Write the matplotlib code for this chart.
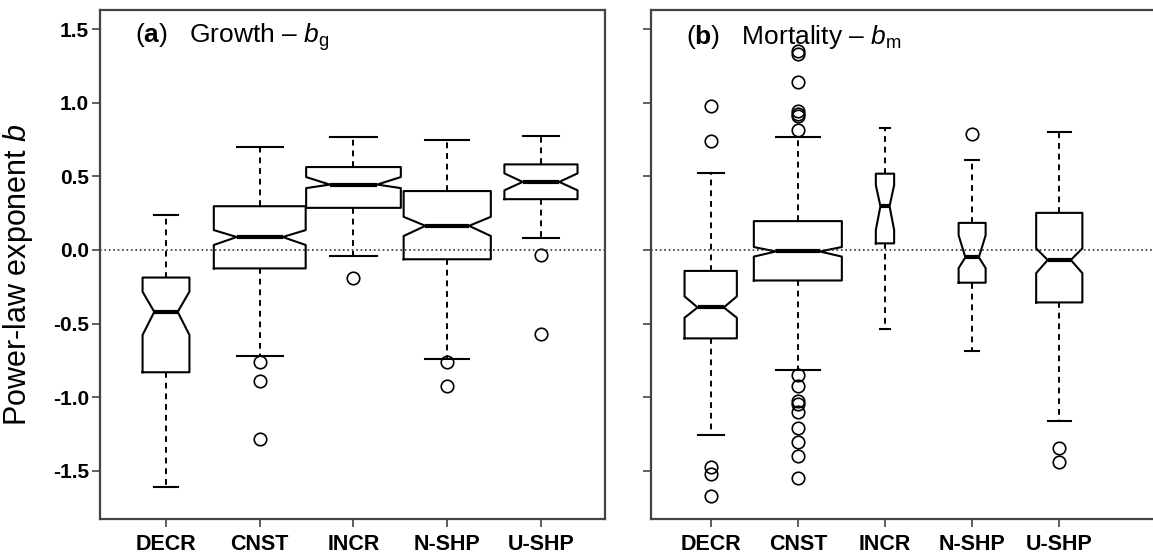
import matplotlib.pyplot as plt

plt.rcParams['font.family'] = 'Liberation Sans'
plt.rcParams['mathtext.fontset'] = 'custom'
plt.rcParams['mathtext.rm'] = 'Liberation Sans'
plt.rcParams['mathtext.it'] = 'Liberation Sans:italic'
plt.rcParams['mathtext.bf'] = 'Liberation Sans:bold'
plt.rcParams['axes.unicode_minus'] = False

groups = ['DECR', 'CNST', 'INCR', 'N-SHP', 'U-SHP']
yticks = [-1.5, -1.0, -0.5, 0.0, 0.5, 1.0, 1.5]
ytick_labels = ['-1.5', '-1.0', '-0.5', '0.0', '0.5', '1.0', '1.5']

# (a) growth exponent b_g
g_whislo = [-1.61, -0.72, -0.04, -0.743, 0.083]
g_q1 = [-0.83, -0.125, 0.286, -0.063, 0.345]
g_med = [-0.42, 0.088, 0.444, 0.164, 0.462]
g_q3 = [-0.187, 0.297, 0.563, 0.40, 0.581]
g_whishi = [0.236, 0.70, 0.766, 0.748, 0.777]
g_cilo = [-0.577, 0.034, 0.42, 0.095, 0.405]
g_cihi = [-0.283, 0.135, 0.495, 0.225, 0.52]
g_fliers = [[], [-0.76, -0.89, -1.284], [-0.187], [-0.76, -0.92], [-0.034, -0.57]]
g_widths = [0.50, 0.98, 1.01, 0.93, 0.78]

# (b) mortality exponent b_m
m_whislo = [-1.255, -0.815, -0.536, -0.687, -1.164]
m_q1 = [-0.60, -0.207, 0.045, -0.222, -0.356]
m_med = [-0.39, -0.01, 0.297, -0.05, -0.068]
m_q3 = [-0.142, 0.196, 0.518, 0.184, 0.252]
m_whishi = [0.522, 0.77, 0.826, 0.613, 0.80]
m_cilo = [-0.46, -0.045, 0.136, -0.123, -0.157]
m_cihi = [-0.315, 0.02, 0.44, 0.10, 0.011]
m_fliers = [[0.98, 0.739, -1.475, -1.52, -1.667],
            [1.35, 1.33, 1.137, 0.946, 0.925, 0.91, 0.815,
             -0.85, -0.92, -1.025, -1.047, -1.097, -1.21, -1.30, -1.397, -1.547],
            [], [0.788], [-1.347, -1.44]]
m_widths = [0.60, 1.01, 0.21, 0.31, 0.53]


def make_stats(whislo, q1, med, q3, whishi, cilo, cihi, fliers):
    stats = []
    for i in range(len(groups)):
        stats.append(dict(whislo=whislo[i], q1=q1[i], med=med[i], q3=q3[i],
                          whishi=whishi[i], cilo=cilo[i], cihi=cihi[i],
                          fliers=fliers[i], label=groups[i]))
    return stats


def draw_panel(ax, stats, widths, xlim, title):
    ax.bxp(stats, positions=range(1, 6), widths=widths, shownotches=True,
           boxprops=dict(color='black', linewidth=1.5),
           whiskerprops=dict(color='black', linewidth=1.4, linestyle=(0, (3, 2.5))),
           capprops=dict(color='black', linewidth=1.5),
           medianprops=dict(color='black', linewidth=3),
           flierprops=dict(marker='o', markersize=9, markerfacecolor='none',
                           markeredgecolor='black', markeredgewidth=1.2))
    ax.axhline(0, color='#333333', linestyle=':', linewidth=1.2)
    ax.set_xlim(xlim)
    ax.set_ylim(-1.826, 1.629)
    ax.set_xticks(range(1, 6))
    ax.set_xticklabels(groups, fontsize=15.5, fontweight='bold')
    ax.set_yticks(yticks)
    for s in ax.spines.values():
        s.set_color('#444444')
        s.set_linewidth(1.6)
    ax.tick_params(axis='both', direction='out', length=6, width=1.2, color='#444444')
    ax.tick_params(axis='x', pad=5)
    ax.tick_params(axis='y', pad=2)
    ax.text(0.069, 0.947, title, transform=ax.transAxes, fontsize=19,
            ha='left', va='center')


fig = plt.figure(figsize=(11.53, 5.57), dpi=100)
ax_a = fig.add_axes([100 / 1153, 38 / 557, 505 / 1153, 509 / 557])
ax_b = fig.add_axes([651 / 1153, 38 / 557, 505 / 1153, 509 / 557])

draw_panel(ax_a, make_stats(g_whislo, g_q1, g_med, g_q3, g_whishi, g_cilo, g_cihi, g_fliers),
           g_widths, (0.296, 5.683), r'($\mathbf{a}$)   Growth – $b_{\rm g}$')
draw_panel(ax_b, make_stats(m_whislo, m_q1, m_med, m_q3, m_whishi, m_cilo, m_cihi, m_fliers),
           m_widths, (0.315, 6.11), r'($\mathbf{b}$)   Mortality – $b_{\rm m}$')

ax_a.set_yticklabels(ytick_labels, fontsize=15, fontweight='bold')
ax_a.set_ylabel(r'Power-law exponent $b$', fontsize=22)
ax_a.yaxis.set_label_coords(-0.128, 0.48)
ax_b.set_yticklabels([])

fig.savefig('out.png', dpi=100)
